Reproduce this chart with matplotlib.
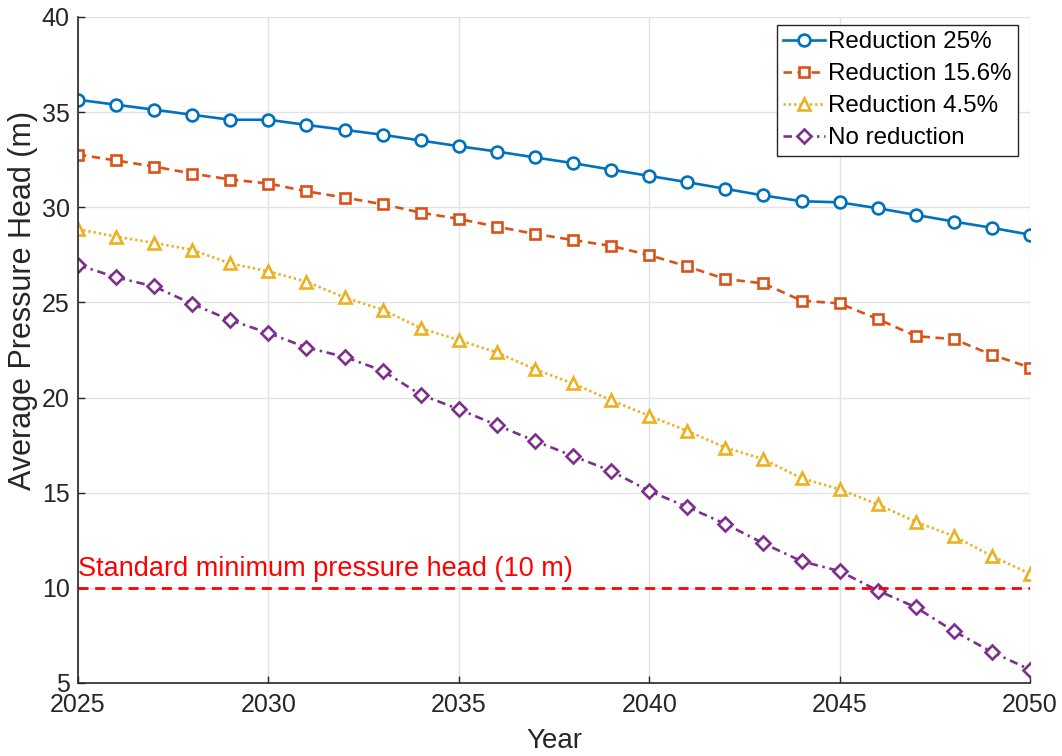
import matplotlib
matplotlib.use("Agg")
import matplotlib.pyplot as plt

plt.rcParams['font.family'] = ['Liberation Sans', 'DejaVu Sans']

years = list(range(2025, 2051))

reduction_25 = [35.65, 35.39, 35.13, 34.86, 34.60, 34.60, 34.33, 34.07, 33.81, 33.51,
                33.21, 32.93, 32.62, 32.32, 31.98, 31.65, 31.32, 30.97, 30.62, 30.32,
                30.26, 29.95, 29.60, 29.25, 28.92, 28.56]
reduction_15_6 = [32.77, 32.46, 32.14, 31.77, 31.46, 31.25, 30.84, 30.51, 30.16, 29.72,
                  29.39, 28.98, 28.60, 28.28, 27.97, 27.49, 26.89, 26.23, 26.00, 25.09,
                  24.95, 24.13, 23.23, 23.07, 22.25, 21.58]
reduction_4_5 = [28.85, 28.46, 28.13, 27.76, 27.05, 26.63, 26.09, 25.26, 24.62, 23.65,
                 23.02, 22.37, 21.49, 20.74, 19.86, 19.04, 18.25, 17.37, 16.76, 15.76,
                 15.18, 14.39, 13.47, 12.72, 11.67, 10.74]
no_reduction = [26.97, 26.32, 25.84, 24.92, 24.07, 23.39, 22.63, 22.14, 21.41, 20.15,
                19.39, 18.55, 17.72, 16.93, 16.14, 15.09, 14.25, 13.36, 12.34, 11.40,
                10.88, 9.86, 8.98, 7.72, 6.63, 5.70]

standard_min_head = 10
x_ticks = [2025, 2030, 2035, 2040, 2045, 2050]
y_ticks = [5, 10, 15, 20, 25, 30, 35, 40]

series = [
    ("Reduction 25%", reduction_25, '#0072BD', '-', 'o', 8.5),
    ("Reduction 15.6%", reduction_15_6, '#D95319', (0, (3.2, 2.1)), 's', 6.5),
    ("Reduction 4.5%", reduction_4_5, '#EDB120', (0, (0.9, 1.1)), '^', 9),
    ("No reduction", no_reduction, '#7E2F8E', (0, (3.2, 1.8, 0.9, 1.8)), 'D', 7),
]

fig = plt.figure(figsize=(10.62, 7.56), dpi=100)
ax = fig.add_axes([78/1062, 1-683/756, (1030-78)/1062, (683-17)/756])

for label, vals, color, ls, mk, ms in series:
    ax.plot(years, vals, color=color, linestyle=ls, marker=mk, markersize=ms,
            markerfacecolor='white', markeredgecolor=color, markeredgewidth=1.9,
            linewidth=1.9, label=label)

ax.plot([years[0], years[-1]], [standard_min_head, standard_min_head],
        color='red', linestyle=(0, (3.6, 2.4)), linewidth=2)
ax.text(2025.0, standard_min_head + 0.62, "Standard minimum pressure head (10 m)",
        color='red', fontsize=19.5, va='baseline', ha='left')

ax.set_xlim(2025, 2050)
ax.set_ylim(5, 40)
ax.set_xticks(x_ticks)
ax.set_yticks(y_ticks)
ax.tick_params(direction='in', length=5, labelsize=18, colors='#262626', width=1)
ax.tick_params(axis='x', pad=7)
ax.tick_params(axis='y', pad=6)
ax.grid(True, color='#e3e3e3', linewidth=1)
ax.set_axisbelow(True)
for s in ['top', 'right']:
    ax.spines[s].set_visible(False)
for s in ['left', 'bottom']:
    ax.spines[s].set_color('#262626')
    ax.spines[s].set_linewidth(1.2)

fig.text(554/1062, 1-741/756, "Year", fontsize=20, color='#262626',
         ha='center', va='center')
fig.text(23/1062, 1-300/756, "Average Pressure Head (m)", fontsize=22,
         color='#262626', ha='center', va='center', rotation=90)

leg = ax.legend(loc='upper right', bbox_to_anchor=((1018-78)/952, (683-25)/666),
                borderaxespad=0, fontsize=17.4, fancybox=False, framealpha=1,
                edgecolor='#262626', handlelength=1.75, handletextpad=0.14,
                borderpad=0.25, labelspacing=0.42)
leg.get_frame().set_linewidth(1.0)

fig.savefig("out.png", dpi=100)
